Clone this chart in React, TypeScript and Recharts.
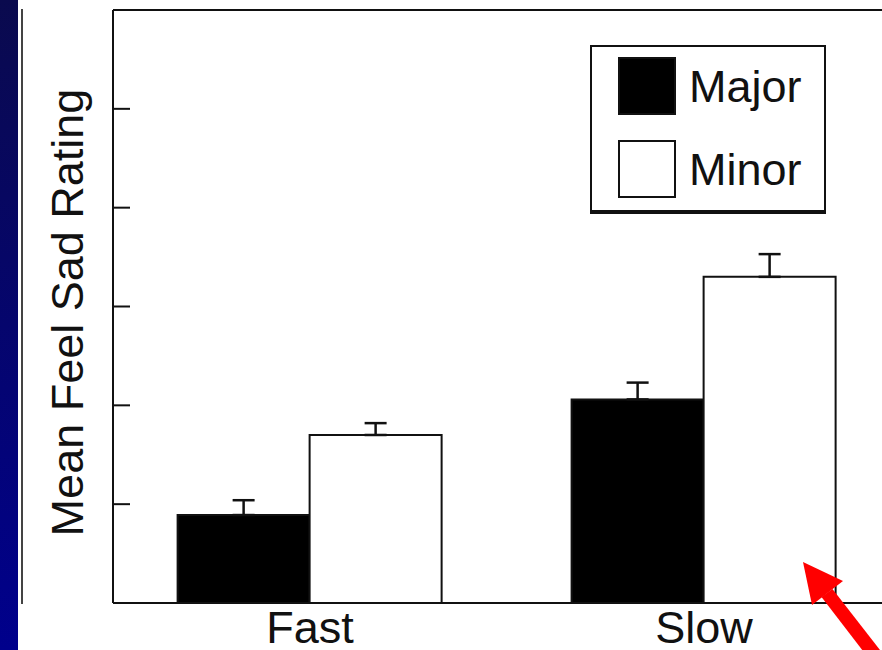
import { BarChart, Bar, XAxis, YAxis, ErrorBar, Legend, ReferenceLine } from "recharts";

const categories = ["Fast", "Slow"];
const majorMeans = [0.89, 2.06];
const majorErrs = [0.15, 0.17];
const minorMeans = [1.7, 3.3];
const minorErrs = [0.12, 0.23];
const yTicks = [0, 1, 2, 3, 4, 5, 6];

const FONT = '"Liberation Sans", Arial, Helvetica, sans-serif';
const INK = "#111";

const data = categories.map((c, i) => ({
  name: c,
  major: majorMeans[i],
  majorErr: [0, majorErrs[i]],
  minor: minorMeans[i],
  minorErr: [0, minorErrs[i]],
}));

function LegendBox({ payload }: { payload?: { value: string; color?: string; payload?: { fill?: string } }[] }) {
  return (
    <div style={{ width: 232, height: 163, border: `2px solid ${INK}`, borderBottomWidth: 4, background: "#fff", boxSizing: "content-box", position: "relative", fontFamily: FONT }}>
      {(payload ?? []).map((p, i) => (
        <div key={p.value} style={{ position: "absolute", left: 26, top: 10 + i * 83, display: "flex", alignItems: "center", height: 58 }}>
          <span style={{ width: 54, height: 54, background: p.payload?.fill ?? p.color, border: `2px solid ${INK}`, display: "inline-block" }} />
          <span style={{ marginLeft: 13, fontSize: 45, color: INK, lineHeight: 1 }}>{p.value}</span>
        </div>
      ))}
    </div>
  );
}

export default function App() {
  return (
    <div style={{ position: "fixed", left: 0, top: 0, width: 882, height: 650, overflow: "hidden", background: "#fff" }}>
      <div style={{ position: "absolute", left: 0, top: 0, width: 18, height: 650, background: "linear-gradient(#0a0a4e, #00008c)" }} />
      <div style={{ position: "absolute", left: 21, top: 9, width: 2, height: 595, background: "#444" }} />
      <div style={{ position: "absolute", left: 0, top: 0 }}>
        <BarChart width={920} height={650} data={data} margin={{ top: 10, right: 19, bottom: 0, left: 13 }}
          barCategoryGap="16.4%" barGap={0}>
          <XAxis dataKey="name" height={47} axisLine={{ stroke: INK, strokeWidth: 2 }} tickLine={false} tickSize={0} tickMargin={8}
            tick={{ fontSize: 45, fill: INK, fontFamily: FONT }} />
          <YAxis width={100} domain={[0, 6]} ticks={yTicks} tickSize={-17} tick={<g />}
            axisLine={{ stroke: INK, strokeWidth: 2 }} tickLine={{ stroke: INK, strokeWidth: 2 }}
            label={{ value: "Mean Feel Sad Rating", angle: -90, position: "center", dx: 4, dy: 6, style: { fontSize: 45, fill: INK, fontFamily: FONT } }} />
          <ReferenceLine y={6} stroke={INK} strokeWidth={2} />
          <Legend layout="vertical" align="center" verticalAlign="middle" wrapperStyle={{ left: 590, top: 45, width: 236, height: 169 }}
            content={(props) => <LegendBox payload={props.payload as never} />} />
          <Bar dataKey="major" name="Major" fill="#000" stroke={INK} strokeWidth={2} isAnimationActive={false}>
            <ErrorBar dataKey="majorErr" width={11} stroke={INK} strokeWidth={2.5} isAnimationActive={false} />
          </Bar>
          <Bar dataKey="minor" name="Minor" fill="#fff" stroke={INK} strokeWidth={2} isAnimationActive={false}>
            <ErrorBar dataKey="minorErr" width={11} stroke={INK} strokeWidth={2.5} isAnimationActive={false} />
          </Bar>
        </BarChart>
      </div>
      <svg width={882} height={650} style={{ position: "absolute", left: 0, top: 0, pointerEvents: "none" }}>
        <polygon points="821.5,597 832.5,589 894,668 883,677" fill="#f00" />
        <polygon points="803,562 843,581 812,605" fill="#f00" />
      </svg>
    </div>
  );
}
